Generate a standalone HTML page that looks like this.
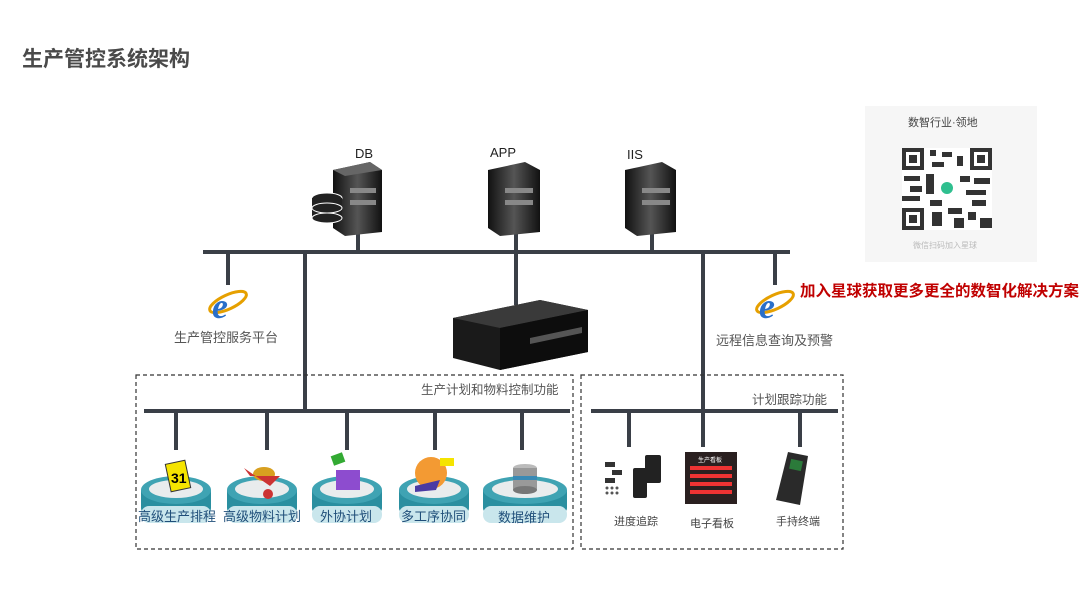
<!DOCTYPE html>
<html><head><meta charset="utf-8"><style>
body{margin:0;width:1080px;height:608px;background:#fff;overflow:hidden;font-family:"Liberation Sans","Noto Sans CJK SC",sans-serif;position:relative}
.t{position:absolute;white-space:nowrap}
</style></head><body>
<div class="t" style="left:22px;top:43px;font-size:21px;font-weight:bold;color:#4a4a4a">生产管控系统架构</div>
<svg width="1080" height="608" style="position:absolute;left:0;top:0">
<defs>
<linearGradient id="srv" x1="0" x2="1"><stop offset="0" stop-color="#111"/><stop offset=".5" stop-color="#555"/><stop offset="1" stop-color="#111"/></linearGradient>
</defs>
<g stroke="#3a3f47" stroke-width="4">
<line x1="203" y1="252" x2="790" y2="252"/>
<line x1="228" y1="252" x2="228" y2="285"/>
<line x1="305" y1="252" x2="305" y2="411"/>
<line x1="516" y1="252" x2="516" y2="305"/>
<line x1="703" y1="252" x2="703" y2="447"/>
<line x1="775" y1="252" x2="775" y2="285"/>
<line x1="358" y1="230" x2="358" y2="252"/>
<line x1="516" y1="230" x2="516" y2="252"/>
<line x1="652" y1="230" x2="652" y2="252"/>
<line x1="144" y1="411" x2="570" y2="411"/>
<line x1="591" y1="411" x2="838" y2="411"/>
<line x1="176" y1="411" x2="176" y2="450"/>
<line x1="267" y1="411" x2="267" y2="450"/>
<line x1="347" y1="411" x2="347" y2="450"/>
<line x1="435" y1="411" x2="435" y2="450"/>
<line x1="522" y1="411" x2="522" y2="450"/>
<line x1="629" y1="411" x2="629" y2="447"/>
<line x1="800" y1="411" x2="800" y2="447"/>
</g>
<g>
<path d="M333 170 L370 162 L382 170 L382 232 L345 236 L333 228Z" fill="url(#srv)"/>
<path d="M333 170 L370 162 L382 170 L345 176Z" fill="#666"/>
<rect x="350" y="188" width="26" height="5" fill="#888"/><rect x="350" y="200" width="26" height="5" fill="#888"/>
<ellipse cx="327" cy="198" rx="15" ry="5" fill="#222" stroke="#fff"/><rect x="312" y="198" width="30" height="20" fill="#222"/><ellipse cx="327" cy="208" rx="15" ry="5" fill="none" stroke="#fff"/><ellipse cx="327" cy="218" rx="15" ry="5" fill="#222" stroke="#fff"/>
<path d="M488 170 L525 162 L540 170 L540 232 L500 236 L488 228Z" fill="url(#srv)"/>
<rect x="505" y="188" width="28" height="5" fill="#888"/><rect x="505" y="200" width="28" height="5" fill="#888"/>
<path d="M625 170 L662 162 L676 170 L676 232 L637 236 L625 228Z" fill="url(#srv)"/>
<rect x="642" y="188" width="28" height="5" fill="#888"/><rect x="642" y="200" width="28" height="5" fill="#888"/>
</g>
<text x="355" y="158" font-size="13" font-family="Liberation Sans" fill="#222">DB</text>
<text x="490" y="157" font-size="13" font-family="Liberation Sans" fill="#222">APP</text>
<text x="627" y="159" font-size="13" font-family="Liberation Sans" fill="#222">IIS</text>
<path d="M453 318 L540 300 L588 310 L588 352 L500 370 L453 358Z" fill="#1a1a1a"/>
<path d="M453 318 L540 300 L588 310 L500 328Z" fill="#3a3a3a"/>
<path d="M500 328 L588 310 L588 352 L500 370Z" fill="#0d0d0d"/>
<path d="M530 338 L582 327 L582 333 L530 344Z" fill="#555"/>
<g font-family="Liberation Serif" font-weight="bold" font-style="italic">
<ellipse cx="228" cy="302" rx="20" ry="7" fill="none" stroke="#e6a000" stroke-width="3" transform="rotate(-25 228 302)"/>
<text x="212" y="318" font-size="36" fill="#2a6fc9">e</text>
<ellipse cx="775" cy="302" rx="20" ry="7" fill="none" stroke="#e6a000" stroke-width="3" transform="rotate(-25 775 302)"/>
<text x="759" y="318" font-size="36" fill="#2a6fc9">e</text>
</g>
<rect x="136" y="375" width="437" height="174" fill="none" stroke="#333" stroke-dasharray="4,3" stroke-width="1.2"/>
<rect x="581" y="375" width="262" height="174" fill="none" stroke="#333" stroke-dasharray="4,3" stroke-width="1.2"/>
<g>
<g transform="translate(176,0)"><ellipse cx="0" cy="508" rx="35" ry="14" fill="#2a8fa0"/><rect x="-35" y="490" width="70" height="18" fill="#2a8fa0"/><ellipse cx="0" cy="490" rx="35" ry="14" fill="#3fa3b3"/><ellipse cx="0" cy="489" rx="27" ry="9" fill="#e9eced"/><rect x="-35" y="506" width="70" height="17" rx="8" fill="#c9e6ec"/></g>
<g transform="translate(262,0)"><ellipse cx="0" cy="508" rx="35" ry="14" fill="#2a8fa0"/><rect x="-35" y="490" width="70" height="18" fill="#2a8fa0"/><ellipse cx="0" cy="490" rx="35" ry="14" fill="#3fa3b3"/><ellipse cx="0" cy="489" rx="27" ry="9" fill="#e9eced"/><rect x="-35" y="506" width="70" height="17" rx="8" fill="#c9e6ec"/></g>
<g transform="translate(347,0)"><ellipse cx="0" cy="508" rx="35" ry="14" fill="#2a8fa0"/><rect x="-35" y="490" width="70" height="18" fill="#2a8fa0"/><ellipse cx="0" cy="490" rx="35" ry="14" fill="#3fa3b3"/><ellipse cx="0" cy="489" rx="27" ry="9" fill="#e9eced"/><rect x="-35" y="506" width="70" height="17" rx="8" fill="#c9e6ec"/></g>
<g transform="translate(434,0)"><ellipse cx="0" cy="508" rx="35" ry="14" fill="#2a8fa0"/><rect x="-35" y="490" width="70" height="18" fill="#2a8fa0"/><ellipse cx="0" cy="490" rx="35" ry="14" fill="#3fa3b3"/><ellipse cx="0" cy="489" rx="27" ry="9" fill="#e9eced"/><rect x="-35" y="506" width="70" height="17" rx="8" fill="#c9e6ec"/></g>
<g transform="translate(525,0)"><ellipse cx="0" cy="508" rx="42" ry="14" fill="#2a8fa0"/><rect x="-42" y="490" width="84" height="18" fill="#2a8fa0"/><ellipse cx="0" cy="490" rx="42" ry="14" fill="#3fa3b3"/><ellipse cx="0" cy="489" rx="33" ry="9" fill="#e9eced"/><rect x="-42" y="506" width="84" height="17" rx="8" fill="#c9e6ec"/></g>
</g>
<rect x="168" y="462" width="20" height="28" fill="#f5e400" stroke="#333" transform="rotate(-12 178 476)"/>
<text x="171" y="483" font-size="14" font-weight="bold" fill="#000">31</text>
<ellipse cx="264" cy="474" rx="11" ry="7" fill="#d8a020"/><path d="M244 468 L250 476 L280 476 L270 486Z" fill="#c33"/><circle cx="268" cy="494" r="5" fill="#c33"/>
<rect x="336" y="470" width="24" height="20" fill="#8d4ccf"/><rect x="332" y="454" width="12" height="10" fill="#3a3" transform="rotate(-20 338 459)"/>
<circle cx="431" cy="473" r="16" fill="#f39a33"/><rect x="440" y="458" width="14" height="8" fill="#f5e400"/><path d="M415 486 L440 480 L436 490 L415 492Z" fill="#4a3aa3"/>
<ellipse cx="525" cy="468" rx="12" ry="4" fill="#bbb"/><rect x="513" y="468" width="24" height="22" fill="#999"/><rect x="513" y="476" width="24" height="4" fill="#3a8ab5"/><ellipse cx="525" cy="490" rx="12" ry="4" fill="#777"/>
<g fill="#333">
<rect x="605" y="462" width="10" height="5"/><rect x="612" y="470" width="10" height="5"/><rect x="605" y="478" width="10" height="5"/>
<rect x="633" y="468" width="14" height="30" rx="2" fill="#222"/><rect x="645" y="455" width="16" height="28" rx="2" fill="#222"/>
<g fill="#555"><circle cx="607" cy="488" r="1.5"/><circle cx="612" cy="488" r="1.5"/><circle cx="617" cy="488" r="1.5"/><circle cx="607" cy="493" r="1.5"/><circle cx="612" cy="493" r="1.5"/><circle cx="617" cy="493" r="1.5"/></g>
</g>
<rect x="685" y="452" width="52" height="52" fill="#2a2020"/>
<text x="698" y="462" font-size="6" fill="#fff">生产看板</text>
<g fill="#e33"><rect x="690" y="466" width="42" height="4"/><rect x="690" y="474" width="42" height="4"/><rect x="690" y="482" width="42" height="4"/><rect x="690" y="490" width="42" height="4"/></g>
<path d="M788 452 L808 456 L800 505 L776 500Z" fill="#2a2a2a"/><rect x="790" y="460" width="12" height="10" fill="#2b7a3a" transform="rotate(12 796 465)"/>
</svg>
<div class="t" style="left:174px;top:327px;font-size:13px;color:#555">生产管控服务平台</div>
<div class="t" style="left:716px;top:330px;font-size:13px;color:#555">远程信息查询及预警</div>
<div class="t" style="left:800px;top:279px;font-size:15.5px;font-weight:bold;color:#c00000">加入星球获取更多更全的数智化解决方案</div>
<div class="t" style="left:421px;top:379px;font-size:12.5px;color:#555">生产计划和物料控制功能</div>
<div class="t" style="left:752px;top:389px;font-size:12.5px;color:#555">计划跟踪功能</div>
<div class="t" style="left:138px;top:506px;font-size:13px;color:#1f4e79">高级生产排程</div>
<div class="t" style="left:223px;top:506px;font-size:13px;color:#1f4e79">高级物料计划</div>
<div class="t" style="left:320px;top:506px;font-size:13px;color:#1f4e79">外协计划</div>
<div class="t" style="left:401px;top:506px;font-size:13px;color:#1f4e79">多工序协同</div>
<div class="t" style="left:498px;top:507px;font-size:13px;color:#1f4e79">数据维护</div>
<div class="t" style="left:614px;top:513px;font-size:11px;color:#444">进度追踪</div>
<div class="t" style="left:690px;top:515px;font-size:11px;color:#444">电子看板</div>
<div class="t" style="left:776px;top:513px;font-size:11px;color:#444">手持终端</div>
<div style="position:absolute;left:865px;top:106px;width:172px;height:156px;background:#f6f6f6">
<div class="t" style="left:43px;top:8px;font-size:11px;color:#444">数智行业·领地</div>
<div style="position:absolute;left:37px;top:42px;width:90px;height:82px;background:#fff">
<svg width="90" height="82"><g fill="#333">
<rect x="0" y="0" width="22" height="22"/><rect x="4" y="4" width="14" height="14" fill="#fff"/><rect x="7" y="7" width="8" height="8"/>
<rect x="68" y="0" width="22" height="22"/><rect x="72" y="4" width="14" height="14" fill="#fff"/><rect x="75" y="7" width="8" height="8"/>
<rect x="0" y="60" width="22" height="22"/><rect x="4" y="64" width="14" height="14" fill="#fff"/><rect x="7" y="67" width="8" height="8"/>
<rect x="28" y="2" width="6" height="6"/><rect x="40" y="4" width="10" height="5"/><rect x="55" y="8" width="6" height="10"/><rect x="30" y="14" width="12" height="5"/>
<rect x="2" y="28" width="16" height="5"/><rect x="8" y="38" width="12" height="6"/><rect x="0" y="48" width="18" height="5"/><rect x="24" y="26" width="8" height="20"/>
<rect x="58" y="28" width="10" height="6"/><rect x="72" y="30" width="16" height="6"/><rect x="64" y="42" width="20" height="5"/><rect x="70" y="52" width="14" height="6"/>
<rect x="28" y="52" width="12" height="6"/><rect x="30" y="64" width="10" height="14"/><rect x="46" y="60" width="14" height="6"/><rect x="52" y="70" width="10" height="10"/><rect x="66" y="64" width="8" height="8"/><rect x="78" y="70" width="12" height="10"/>
</g><circle cx="45" cy="40" r="6" fill="#2fbf8f"/></svg></div>
<div class="t" style="left:48px;top:134px;font-size:8px;color:#bbb">微信扫码加入星球</div>
</div>
</body></html>
